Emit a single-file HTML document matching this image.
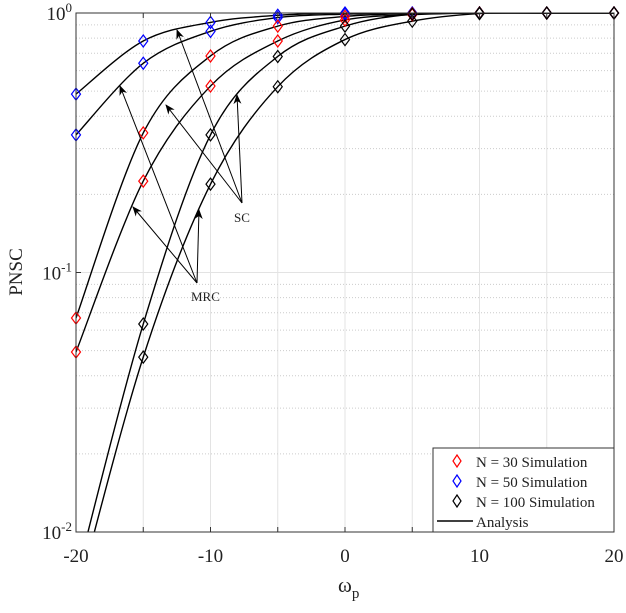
<!DOCTYPE html>
<html><head><meta charset="utf-8"><style>
body{margin:0;background:#fff}
svg text{font-family:"Liberation Serif",serif;fill:#222}
</style></head><body>
<svg id="chart" width="626" height="608" xmlns="http://www.w3.org/2000/svg">
<defs><clipPath id="clip"><rect x="76" y="13" width="538" height="519"/></clipPath>
<marker id="ah" viewBox="0 0 10 10" refX="9" refY="5" markerWidth="9" markerHeight="9" orient="auto"><path d="M0,1 L10,5 L0,9 L3,5 z" fill="#000"/></marker></defs>
<g id="grid"></g>
<g id="curves" clip-path="url(#clip)"></g>
<g id="marks"></g>
<g id="axes"></g>
</svg>
<script>
const xTicks=[-20,-15,-10,-5,0,5,10,15,20];
const xLabels=[-20,-10,0,10,20];
const simX=[-20,-15,-10,-5,0,5,10,15,20];
const n30a=[0.0668,0.345,0.683,0.89,0.97,0.995,1,1,1];
const n30b=[0.0494,0.225,0.523,0.78,0.94,0.985,1,1,1];
const n50a=[0.487,0.78,0.92,0.98,1,1,1,1,1];
const n50b=[0.339,0.64,0.85,0.96,0.99,1,1,1,1];
const n100a=[0.0066,0.0633,0.339,0.68,0.89,0.99,1,1,1];
const n100b=[0.0054,0.0472,0.219,0.52,0.79,0.93,0.995,1,1];
const X0=76,X1=614,Y0=13,Y1=532;
const sx=v=>X0+(v+20)/40*(X1-X0);
const sy=v=>Y0-Math.log10(v)/2*(Y1-Y0);
const NS='http://www.w3.org/2000/svg';
function el(t,a,p){const e=document.createElementNS(NS,t);for(const k in a)e.setAttribute(k,a[k]);document.getElementById(p).appendChild(e);return e;}
// grid
xTicks.forEach(v=>{const g=el('line',{x1:sx(v),x2:sx(v),y1:Y0,y2:Y1,stroke:'#e3e3e3','stroke-width':1},'grid');

});
for(let d=-2;d<0;d++)for(let m=1;m<10;m++){const v=m*Math.pow(10,d);const y=sy(v);
const g=el('line',{x1:X0,x2:X1,y1:y,y2:y,stroke:m==1?'#e3e3e3':'#ccc','stroke-width':1,'stroke-dasharray':m==1?'':'1,2'},'grid');

}
// curves (Catmull-Rom in log space)
function curve(ys,name){
 const p=simX.map((x,i)=>[sx(x),sy(ys[i])]);
 let d='M'+p[0][0]+','+p[0][1];
 for(let i=0;i<p.length-1;i++){const a=p[Math.max(0,i-1)],b=p[i],c=p[i+1],e=p[Math.min(p.length-1,i+2)];
  d+=' C'+(b[0]+(c[0]-a[0])/6)+','+(b[1]+(c[1]-a[1])/6)+' '+(c[0]-(e[0]-b[0])/6)+','+(c[1]-(e[1]-b[1])/6)+' '+c[0]+','+c[1];}
 const pa=el('path',{d:d,fill:'none',stroke:'#000','stroke-width':1.4},'curves');
 
 
}
function dia(ys,col,name){ys.forEach((v,i)=>{const x=sx(simX[i]),y=sy(v);if(y>Y1+1)return;
 const p=el('path',{d:`M${x},${y-6} L${x+4.5},${y} L${x},${y+6} L${x-4.5},${y} Z`,fill:'none',stroke:col,'stroke-width':1.2},'marks');
 
 });}
[[n50a,'blue'],[n50b,'blue'],[n30a,'red'],[n30b,'red'],[n100a,'black'],[n100b,'black']].forEach((s,i)=>{curve(s[0],'analysis-curve-'+i);dia(s[0],s[1],'sim-marker-'+s[1]);});
// axes
const ax=document.getElementById('axes');
ax.insertAdjacentHTML('beforeend',`<rect x="76" y="13" width="538" height="519" fill="none" stroke="#333" stroke-width="1"/>`);
xTicks.forEach(v=>{el('line',{x1:sx(v),x2:sx(v),y1:Y1,y2:Y1-5,stroke:'#333'},'axes');el('line',{x1:sx(v),x2:sx(v),y1:Y0,y2:Y0+5,stroke:'#333'},'axes');});
xLabels.forEach(v=>{const t=el('text',{x:sx(v),y:562,'text-anchor':'middle','font-size':19},'axes');t.textContent=v;

});
[[0,Y0],[-1,sy(0.1)],[-2,Y1]].forEach(a=>{el('line',{x1:X0,x2:X0+5,y1:a[1],y2:a[1],stroke:'#333'},'axes');
 const t=el('text',{x:72,y:a[1]+7,'text-anchor':'end','font-size':19},'axes');
 
 
 t.innerHTML='10<tspan dy="-8" font-size="13">'+a[0]+'</tspan>';});
</script>
<svg style="position:absolute;left:0;top:0" width="626" height="608" xmlns="http://www.w3.org/2000/svg">
<text x="22" y="272" font-size="19" text-anchor="middle" transform="rotate(-90 22 272)" style="font-family:'Liberation Serif',serif">PNSC</text>
<text x="338" y="592" font-size="21" style="font-family:'Liberation Serif',serif">ω<tspan dy="6" font-size="15">p</tspan></text>
<g stroke="#000" stroke-width="1" fill="none">
<line x1="242" y1="203" x2="177" y2="30" marker-end="url(#ah2)"/>
<line x1="242" y1="203" x2="166" y2="105" marker-end="url(#ah2)"/>
<line x1="242" y1="203" x2="237" y2="95" marker-end="url(#ah2)"/>
<line x1="197" y1="283" x2="120" y2="86" marker-end="url(#ah2)"/>
<line x1="197" y1="283" x2="133" y2="207" marker-end="url(#ah2)"/>
<line x1="197" y1="283" x2="199" y2="210" marker-end="url(#ah2)"/>
</g>
<defs><marker id="ah2" viewBox="0 0 10 10" refX="9" refY="5" markerWidth="10" markerHeight="10" markerUnits="userSpaceOnUse" orient="auto"><path d="M0,1 L10,5 L0,9 L3,5 z" fill="#000"/></marker></defs>
<text x="234" y="222" font-size="13" style="font-family:'Liberation Serif',serif">SC</text>
<text x="191" y="301" font-size="13" style="font-family:'Liberation Serif',serif">MRC</text>
<g style="font-family:'Liberation Serif',serif" font-size="15">
<rect x="433" y="448" width="181" height="84" fill="#fff" stroke="#333"/>
<path d="M457,455 L461,461 L457,467 L453,461 Z" fill="none" stroke="red" stroke-width="1.2"/>
<text x="476" y="467">N = 30 Simulation</text>
<path d="M457,475 L461,481 L457,487 L453,481 Z" fill="none" stroke="blue" stroke-width="1.2"/>
<text x="476" y="487">N = 50 Simulation</text>
<path d="M457,495 L461,501 L457,507 L453,501 Z" fill="none" stroke="#000" stroke-width="1.2"/>
<text x="476" y="507">N = 100 Simulation</text>
<line x1="437" y1="521" x2="473" y2="521" stroke="#000" stroke-width="1.4"/>
<text x="476" y="527">Analysis</text>
</g>
</svg>
</body></html>
